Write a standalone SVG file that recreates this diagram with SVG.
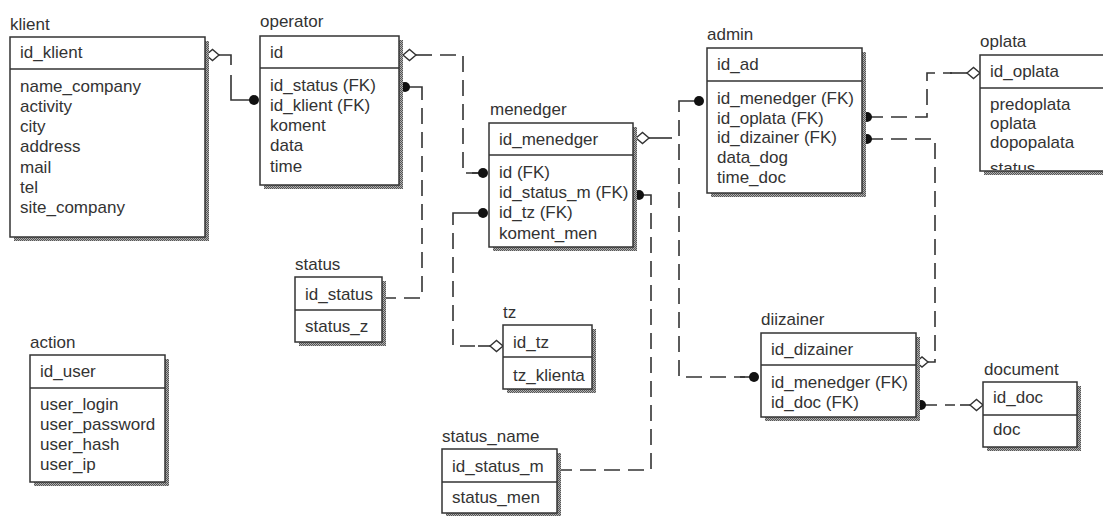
<svg xmlns="http://www.w3.org/2000/svg" width="1103" height="516" viewBox="0 0 1103 516">
<defs>
<pattern id="stip" width="2" height="2" patternUnits="userSpaceOnUse">
<rect width="2" height="2" fill="#b0b0b0"/>
<rect width="1" height="1" fill="#555"/>
<rect x="1" y="1" width="1" height="1" fill="#555"/>
</pattern>
<clipPath id="clipOplata"><rect x="981" y="89" width="130" height="81"/></clipPath>
</defs>
<style>
.sh{fill:url(#stip)}
.bx{fill:#fff;stroke:#333;stroke-width:1.5}
.dv{stroke:#333;stroke-width:1.5}
.t{font-family:"Liberation Sans",Arial,sans-serif;font-size:17px;fill:#333}
.c{fill:none;stroke:#333;stroke-width:1.6;stroke-dasharray:16 8}
.s{fill:none;stroke:#333;stroke-width:1.6}
.dot{fill:#111}
.dm{fill:#fff;stroke:#333;stroke-width:1.4}
</style>
<rect width="1103" height="516" fill="#fff"/>

<g id="connectors">
<!-- klient - operator -->
<path class="s" d="M219,55 H231 V65"/>
<path class="s" d="M231,75 V100 H254"/>
<polygon class="dm" points="206,55 212.5,49.5 219,55 212.5,60.5"/>
<circle class="dot" cx="254" cy="100" r="5"/>
<!-- operator - menedger -->
<path class="s" d="M416,55 H432"/>
<path class="c" d="M440,55 H463 V173 H478"/>
<path class="s" d="M472,173 H483"/>
<polygon class="dm" points="403,55 409.5,49.5 416,55 409.5,60.5"/>
<circle class="dot" cx="483" cy="173" r="5"/>
<!-- status - operator -->
<path class="s" d="M405,87 H422 V100"/>
<path class="c" d="M422,108 V298 H386"/>
<circle class="dot" cx="405" cy="87" r="5"/>
<!-- menedger - tz -->
<path class="s" d="M483,213 H453 V225"/>
<path class="c" d="M453,233 V346 H475"/>
<path class="s" d="M478,346 H491"/>
<circle class="dot" cx="483" cy="213" r="5"/>
<polygon class="dm" points="490,346 496.5,340.5 503,346 496.5,351.5"/>
<!-- menedger - status_name -->
<path class="s" d="M639,195 H651 V205"/>
<path class="c" d="M651,213 V470 H561"/>
<circle class="dot" cx="639" cy="195" r="5"/>
<!-- menedger - admin / diizainer -->
<polygon class="dm" points="636,138 642.5,132.5 649,138 642.5,143.5"/>
<path class="s" d="M649,138 H672"/>
<path class="s" d="M699,101 H679 V112"/>
<path class="c" d="M679,120 V377 H745"/>
<path class="s" d="M740,377 H754"/>
<circle class="dot" cx="699" cy="101" r="5"/>
<circle class="dot" cx="754" cy="377" r="5"/>
<!-- admin - oplata -->
<path class="c" d="M867,117 H927 V73 H952"/>
<path class="s" d="M950,73 H967"/>
<circle class="dot" cx="867" cy="117" r="5"/>
<polygon class="dm" points="967,73 973.5,67.5 980,73 973.5,78.5"/>
<!-- admin - diizainer -->
<path class="c" d="M867,139 H935 V362 H928"/>
<circle class="dot" cx="867" cy="139" r="5"/>
<polygon class="dm" points="916,362 922,357 928,362 922,367"/>
<!-- diizainer - document -->
<path class="c" d="M921,405 H955"/>
<path class="s" d="M960,405 H970"/>
<circle class="dot" cx="921" cy="405" r="5"/>
<polygon class="dm" points="970,405 976.5,399.5 983,405 976.5,410.5"/>
</g>

<g id="klient">
<text class="t" x="10" y="30">klient</text>
<rect class="sh" x="14" y="41" width="195" height="200"/>
<rect class="bx" x="10" y="37" width="195" height="200"/>
<line class="dv" x1="10" y1="69" x2="205" y2="69"/>
<text class="t" x="20" y="58">id_klient</text>
<text class="t" x="20" y="92">name_company</text>
<text class="t" x="20" y="112">activity</text>
<text class="t" x="20" y="132">city</text>
<text class="t" x="20" y="152">address</text>
<text class="t" x="20" y="173">mail</text>
<text class="t" x="20" y="193">tel</text>
<text class="t" x="20" y="213">site_company</text>
</g>

<g id="operator">
<text class="t" x="260" y="27">operator</text>
<rect class="sh" x="264" y="40" width="139" height="149"/>
<rect class="bx" x="260" y="36" width="139" height="149"/>
<line class="dv" x1="260" y1="68" x2="399" y2="68"/>
<text class="t" x="270" y="58">id</text>
<text class="t" x="270" y="91">id_status (FK)</text>
<text class="t" x="270" y="111">id_klient (FK)</text>
<text class="t" x="270" y="131">koment</text>
<text class="t" x="270" y="151">data</text>
<text class="t" x="270" y="172">time</text>
</g>

<g id="status">
<text class="t" x="295" y="270">status</text>
<rect class="sh" x="299" y="281" width="87" height="65"/>
<rect class="bx" x="295" y="277" width="87" height="65"/>
<line class="dv" x1="295" y1="310" x2="382" y2="310"/>
<text class="t" x="305" y="300">id_status</text>
<text class="t" x="305" y="332">status_z</text>
</g>

<g id="menedger">
<text class="t" x="490" y="115">menedger</text>
<rect class="sh" x="493" y="127" width="144" height="124"/>
<rect class="bx" x="489" y="123" width="144" height="124"/>
<line class="dv" x1="489" y1="155" x2="633" y2="155"/>
<text class="t" x="499" y="145">id_menedger</text>
<text class="t" x="499" y="178">id (FK)</text>
<text class="t" x="499" y="198">id_status_m (FK)</text>
<text class="t" x="499" y="218">id_tz (FK)</text>
<text class="t" x="499" y="239">koment_men</text>
</g>

<g id="tz">
<text class="t" x="503" y="318">tz</text>
<rect class="sh" x="507" y="329" width="89" height="64"/>
<rect class="bx" x="503" y="325" width="89" height="64"/>
<line class="dv" x1="503" y1="357" x2="592" y2="357"/>
<text class="t" x="513" y="348">id_tz</text>
<text class="t" x="513" y="381">tz_klienta</text>
</g>

<g id="status_name">
<text class="t" x="442" y="442">status_name</text>
<rect class="sh" x="446" y="453" width="115" height="64"/>
<rect class="bx" x="442" y="449" width="115" height="64"/>
<line class="dv" x1="442" y1="482" x2="557" y2="482"/>
<text class="t" x="452" y="472">id_status_m</text>
<text class="t" x="452" y="503">status_men</text>
</g>

<g id="admin">
<text class="t" x="707" y="40">admin</text>
<rect class="sh" x="711" y="52" width="155" height="145"/>
<rect class="bx" x="707" y="48" width="155" height="145"/>
<line class="dv" x1="707" y1="81" x2="862" y2="81"/>
<text class="t" x="717" y="70">id_ad</text>
<text class="t" x="717" y="104">id_menedger (FK)</text>
<text class="t" x="717" y="124">id_oplata (FK)</text>
<text class="t" x="717" y="143">id_dizainer (FK)</text>
<text class="t" x="717" y="163">data_dog</text>
<text class="t" x="717" y="183">time_doc</text>
</g>

<g id="oplata">
<text class="t" x="980" y="47">oplata</text>
<rect class="sh" x="984" y="59" width="130" height="116"/>
<rect class="bx" x="980" y="55" width="130" height="116"/>
<line class="dv" x1="980" y1="88" x2="1110" y2="88"/>
<text class="t" x="990" y="77">id_oplata</text>
<g clip-path="url(#clipOplata)">
<text class="t" x="990" y="110">predoplata</text>
<text class="t" x="990" y="129">oplata</text>
<text class="t" x="990" y="148">dopopalata</text>
<text class="t" x="990" y="174">status</text>
</g>
</g>

<g id="diizainer">
<text class="t" x="761" y="325">diizainer</text>
<rect class="sh" x="765" y="337" width="155" height="84"/>
<rect class="bx" x="761" y="333" width="155" height="84"/>
<line class="dv" x1="761" y1="365" x2="916" y2="365"/>
<text class="t" x="771" y="355">id_dizainer</text>
<text class="t" x="771" y="388">id_menedger (FK)</text>
<text class="t" x="771" y="408">id_doc (FK)</text>
</g>

<g id="document">
<text class="t" x="984" y="375">document</text>
<rect class="sh" x="987" y="386" width="94" height="65"/>
<rect class="bx" x="983" y="382" width="94" height="65"/>
<line class="dv" x1="983" y1="415" x2="1077" y2="415"/>
<text class="t" x="993" y="403">id_doc</text>
<text class="t" x="993" y="435">doc</text>
</g>

<g id="action">
<text class="t" x="30" y="348">action</text>
<rect class="sh" x="34" y="359" width="135" height="127"/>
<rect class="bx" x="30" y="355" width="135" height="127"/>
<line class="dv" x1="30" y1="388" x2="165" y2="388"/>
<text class="t" x="40" y="377">id_user</text>
<text class="t" x="40" y="410">user_login</text>
<text class="t" x="40" y="430">user_password</text>
<text class="t" x="40" y="450">user_hash</text>
<text class="t" x="40" y="470">user_ip</text>
</g>
</svg>
